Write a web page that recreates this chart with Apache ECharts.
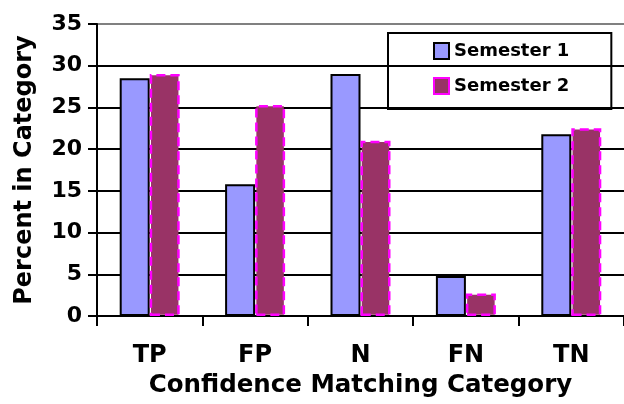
<!DOCTYPE html>
<html>
<head>
<meta charset="utf-8">
<script src="https://cdn.jsdelivr.net/npm/echarts@6/dist/echarts.min.js"></script>
<style>
html, body { margin: 0; padding: 0; background: #fff; }
#chart { width: 624px; height: 404px; }
</style>
</head>
<body>
<div id="chart"></div>
<script>
var categories = ['TP', 'FP', 'N', 'FN', 'TN'];
var semester1 = [28.5, 15.8, 29.0, 4.8, 21.8];
var semester2 = [29.0, 25.3, 21.0, 2.7, 22.5];
var yTicks = [0, 5, 10, 15, 20, 25, 30, 35];

initChart();

function initChart() {
    var dom = document.getElementById('chart');
    var myChart = echarts.init(dom);
    var font = 'DejaVu Sans, sans-serif';
    var option = {
        animation: false,
        textStyle: { fontFamily: font },
        grid: {
            left: 97,
            right: -8,
            top: 24,
            bottom: 88,
            containLabel: false
        },
        legend: {
            orient: 'vertical',
            left: 388,
            top: 33,
            padding: [9, 42, 14, 45],
            itemGap: 17,
            itemWidth: 15,
            itemHeight: 16,
            icon: 'rect',
            borderColor: '#000',
            borderWidth: 2,
            textStyle: {
                fontFamily: font,
                fontWeight: 'bold',
                fontSize: 18,
                color: '#000'
            },
            data: ['Semester 1', 'Semester 2']
        },
        xAxis: {
            type: 'category',
            data: categories,
            name: 'Confidence Matching Category',
            nameLocation: 'middle',
            nameGap: 50,
            nameTextStyle: {
                fontFamily: font,
                fontWeight: 'bold',
                fontSize: 24.5,
                color: '#000'
            },
            axisLine: { lineStyle: { color: '#000', width: 2 } },
            axisTick: { show: true, length: 10, lineStyle: { color: '#000', width: 2 } },
            axisLabel: {
                margin: 28,
                fontFamily: font,
                fontWeight: 'bold',
                fontSize: 24,
                color: '#000'
            }
        },
        yAxis: {
            type: 'value',
            min: yTicks[0],
            max: yTicks[yTicks.length - 1],
            interval: 5,
            name: 'Percent in Category',
            nameLocation: 'middle',
            nameGap: 60,
            nameTextStyle: {
                fontFamily: font,
                fontWeight: 'bold',
                fontSize: 24,
                color: '#000'
            },
            axisLine: { show: true, lineStyle: { color: '#000', width: 2 } },
            axisTick: { show: true, length: 9, lineStyle: { color: '#000', width: 2 } },
            axisLabel: {
                margin: 15,
                fontFamily: font,
                fontWeight: 'bold',
                fontSize: 22,
                color: '#000'
            },
            splitLine: {
                show: true,
                lineStyle: {
                    width: 2,
                    color: ['#000', '#000', '#000', '#000', '#000', '#000', '#000', '#808080']
                }
            }
        },
        series: [{
                name: 'Semester 1',
                type: 'bar',
                barWidth: 30,
                barGap: '0%',
                itemStyle: {
                    color: '#9999FF',
                    borderColor: '#000',
                    borderWidth: 2
                },
                data: semester1
            },
            {
                name: 'Semester 2',
                type: 'bar',
                barWidth: 30,
                barGap: '0%',
                itemStyle: {
                    color: '#993366',
                    borderColor: '#FF00FF',
                    borderWidth: 2.5,
                    borderType: [9, 5]
                },
                data: semester2
            }
        ]
    };
    myChart.setOption(option, true);
}
</script>
</body>
</html>
